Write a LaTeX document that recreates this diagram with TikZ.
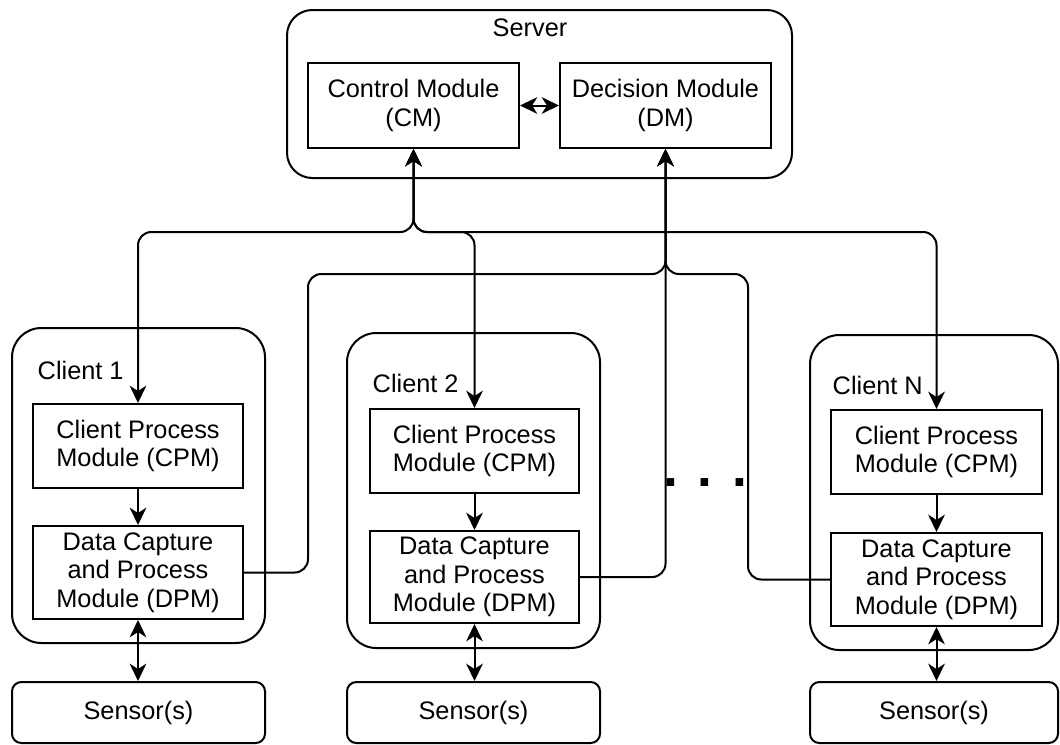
\documentclass[tikz,border=0pt]{standalone}
\usepackage{fontspec}
\setmainfont{Liberation Sans}
\usetikzlibrary{arrows.meta,calc}
\begin{document}
\begin{tikzpicture}[x=0.75pt,y=-0.75pt,
  every node/.style={font=\fontsize{19}{21.5}\selectfont},
  sz/.style 2 args={minimum width={#1*0.75pt}, minimum height={#2*0.75pt}},
  box/.style={draw, line width=1.5pt, inner sep=0pt, align=center},
  cont/.style={draw, line width=1.5pt, inner sep=0pt, rounded corners=22pt},
  srv/.style={draw, line width=1.5pt, inner sep=0pt, rounded corners=19pt},
  sens/.style={draw, line width=1.5pt, inner sep=0pt, rounded corners=7pt},
  conn/.style={line width=1.5pt, rounded corners=10pt},
  >={Stealth[length=13pt,width=12.5pt,inset=4pt]}
]
\useasboundingbox (0,0) rectangle (1060,744);

% server
\node[srv, sz={505}{168}] (server) at (539.5,94) {};
\node (serverlab) at (530,28) {Server};
\node[box, sz={211}{85}] (cm) at (413.5,105.5) {Control Module\\(CM)};
\node[box, sz={211}{85}] (dm) at (665.5,105.5) {Decision Module\\(DM)};
\draw[line width=1.5pt,<->] (cm.east) -- (dm.west);

% client 1
\node[cont, sz={253}{315}] (cl1) at (138.5,485.5) {};
\node[anchor=west] (cl1lab) at (33,370) {Client 1};
\node[box, sz={210}{84}] (cpm1) at (138,446) {Client Process\\Module (CPM)};
\node[box, sz={210}{93}] (dpm1) at (138,572.5) {Data Capture\\and Process\\Module (DPM)};
\node[sens, sz={253}{61}] (sen1) at (138.5,712.5) {Sensor(s)};

% client 2
\node[cont, sz={253}{315}] (cl2) at (473.5,490.5) {};
\node[anchor=west] (cl2lab) at (368,383) {Client 2};
\node[box, sz={209}{84}] (cpm2) at (474.5,451) {Client Process\\Module (CPM)};
\node[box, sz={209}{92}] (dpm2) at (474.5,577) {Data Capture\\and Process\\Module (DPM)};
\node[sens, sz={253}{61}] (sen2) at (473.5,712.5) {Sensor(s)};

% client N
\node[cont, sz={248}{315}] (cln) at (934,492.5) {};
\node[anchor=west] (cllabn) at (828,385) {Client N};
\node[box, sz={211}{84}] (cpmn) at (936.5,452) {Client Process\\Module (CPM)};
\node[box, sz={211}{93}] (dpmn) at (936.5,579.5) {Data Capture\\and Process\\Module (DPM)};
\node[sens, sz={248}{61}] (senn) at (934,712.5) {Sensor(s)};

% dots
\node[font=\fontsize{40}{40}\selectfont\bfseries] (dots) at (705,483) {. . .};

% internal arrows
\foreach \i in {1,2,n}{
  \draw[line width=1.5pt,->] (cpm\i.south) -- (dpm\i.north);
  \draw[line width=1.5pt,<->] (dpm\i.south) -- (dpm\i.south |- sen\i.north);
}

% CM connections
\coordinate (h1) at (0,232);
\draw[conn,<->] (cm.south) -- (cm.south |- h1) -| (cpm1.north);
\draw[conn,<->] (cm.south) -- (cm.south |- h1) -| (cpm2.north);
\draw[conn,<->] (cm.south) -- (cm.south |- h1) -| (cpmn.north);

% DM connections
\coordinate (h2) at (0,274);
\coordinate (v1) at (308,0);
\coordinate (vn) at (748,0);
\draw[conn,<-] (dm.south) -- (dm.south |- h2) -- (v1 |- h2) |- (dpm1.east);
\draw[conn,<-] (dm.south) -- (dm.south |- dpm2.east) -- (dpm2.east);
\draw[conn,<-] (dm.south) -- (dm.south |- h2) -- (vn |- h2) |- (dpmn.west);
\end{tikzpicture}
\end{document}
